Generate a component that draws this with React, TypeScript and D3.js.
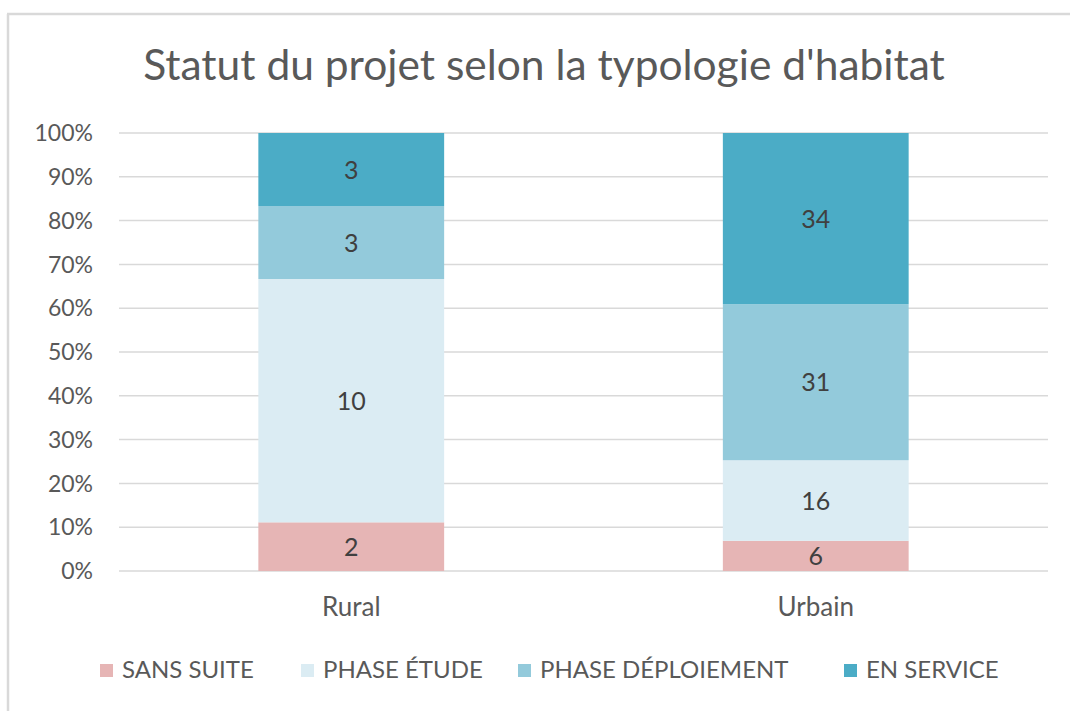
import React, { useEffect, useRef } from "react";
import * as d3 from "d3";

const categories = ["Rural", "Urbain"];
const seriesNames = ["SANS SUITE", "PHASE ÉTUDE", "PHASE DÉPLOIEMENT", "EN SERVICE"];
const sansSuite = [2, 6];
const phaseEtude = [10, 16];
const phaseDeploiement = [3, 31];
const enService = [3, 34];
const yTicks = [0, 0.1, 0.2, 0.3, 0.4, 0.5, 0.6, 0.7, 0.8, 0.9, 1];
const colors = ["#E6B5B5", "#DBECF3", "#93CADB", "#4BACC6"];
const title = "Statut du projet selon la typologie d'habitat";

const FONT = "Lato, 'Open Sans', sans-serif";

export default function App() {
  const ref = useRef<SVGSVGElement>(null);
  useEffect(() => {
    const svg = d3.select(ref.current);
    svg.selectAll("*").remove();
    const W = 1070, H = 711;
    svg.append("rect").attr("x", 0).attr("y", 0).attr("width", W).attr("height", H).attr("fill", "#fff");
    svg.append("line").attr("x1", 7).attr("x2", W).attr("y1", 14).attr("y2", 14)
      .attr("stroke", "#d9d9d9").attr("stroke-width", 2.5);
    svg.append("line").attr("x1", 8).attr("x2", 8).attr("y1", 14).attr("y2", H)
      .attr("stroke", "#d9d9d9").attr("stroke-width", 2.5);

    const left = 119, right = 1048, top = 133, bottom = 571;
    const x = d3.scaleBand().domain(categories).range([left, right]).paddingInner(0.6).paddingOuter(0.3);
    const y = d3.scaleLinear().domain([0, 1]).range([bottom, top]);

    // title
    const t = svg.append("text").attr("x", 544).attr("y", 80).attr("text-anchor", "middle")
      .attr("font-family", FONT).attr("font-size", 34).attr("fill", "#595959").text(title);
    const tw = (t.node() as SVGTextElement).getComputedTextLength();
    t.attr("font-size", 34 * 802 / tw);

    // grid
    svg.append("g").selectAll("line").data(yTicks).join("line")
      .attr("x1", left).attr("x2", right)
      .attr("y1", d => y(d)).attr("y2", d => y(d))
      .attr("stroke", "#d9d9d9").attr("stroke-width", 1.5);

    svg.append("g").selectAll("text").data(yTicks).join("text")
      .attr("x", 93).attr("y", d => y(d)).attr("dy", "0.36em").attr("text-anchor", "end")
      .attr("font-family", FONT).attr("font-size", 23).attr("fill", "#595959")
      .text(d => d3.format(".0%")(d));

    const series = [sansSuite, phaseEtude, phaseDeploiement, enService];
    const rows = categories.map((c, i) => {
      const o: any = { cat: c };
      seriesNames.forEach((s, j) => (o[s] = series[j][i]));
      return o;
    });
    const stacked = d3.stack().keys(seriesNames).offset(d3.stackOffsetExpand)(rows);

    const g = svg.append("g");
    stacked.forEach((layer, j) => {
      layer.forEach((seg: any, i) => {
        const bx = x(categories[i])!;
        g.append("rect").attr("x", bx).attr("width", x.bandwidth())
          .attr("y", y(seg[1])).attr("height", y(seg[0]) - y(seg[1]))
          .attr("fill", colors[j]);
        g.append("text").attr("x", bx + x.bandwidth() / 2).attr("y", (y(seg[0]) + y(seg[1])) / 2)
          .attr("dy", "0.36em").attr("text-anchor", "middle")
          .attr("font-family", FONT).attr("font-size", 25).attr("fill", "#404040")
          .text(series[j][i]);
      });
    });

    svg.append("g").selectAll("text").data(categories).join("text")
      .attr("x", d => x(d)! + x.bandwidth() / 2).attr("y", 607).attr("dy", "0.36em")
      .attr("text-anchor", "middle").attr("font-family", FONT).attr("font-size", 26).attr("fill", "#595959")
      .text(d => d);

    // legend
    const legendStarts = [100, 301, 518, 844];
    const lg = svg.append("g");
    seriesNames.forEach((s, j) => {
      lg.append("rect").attr("x", legendStarts[j]).attr("y", 664).attr("width", 13).attr("height", 13).attr("fill", colors[j]);
      lg.append("text").attr("x", legendStarts[j] + 22).attr("y", 669).attr("dy", "0.36em")
        .attr("font-family", FONT).attr("font-size", 24).attr("fill", "#595959").text(s);
    });
  }, []);
  return <svg ref={ref} width={1070} height={711} style={{ display: "block", position: "absolute", left: 0, top: 0 }} />;
}
